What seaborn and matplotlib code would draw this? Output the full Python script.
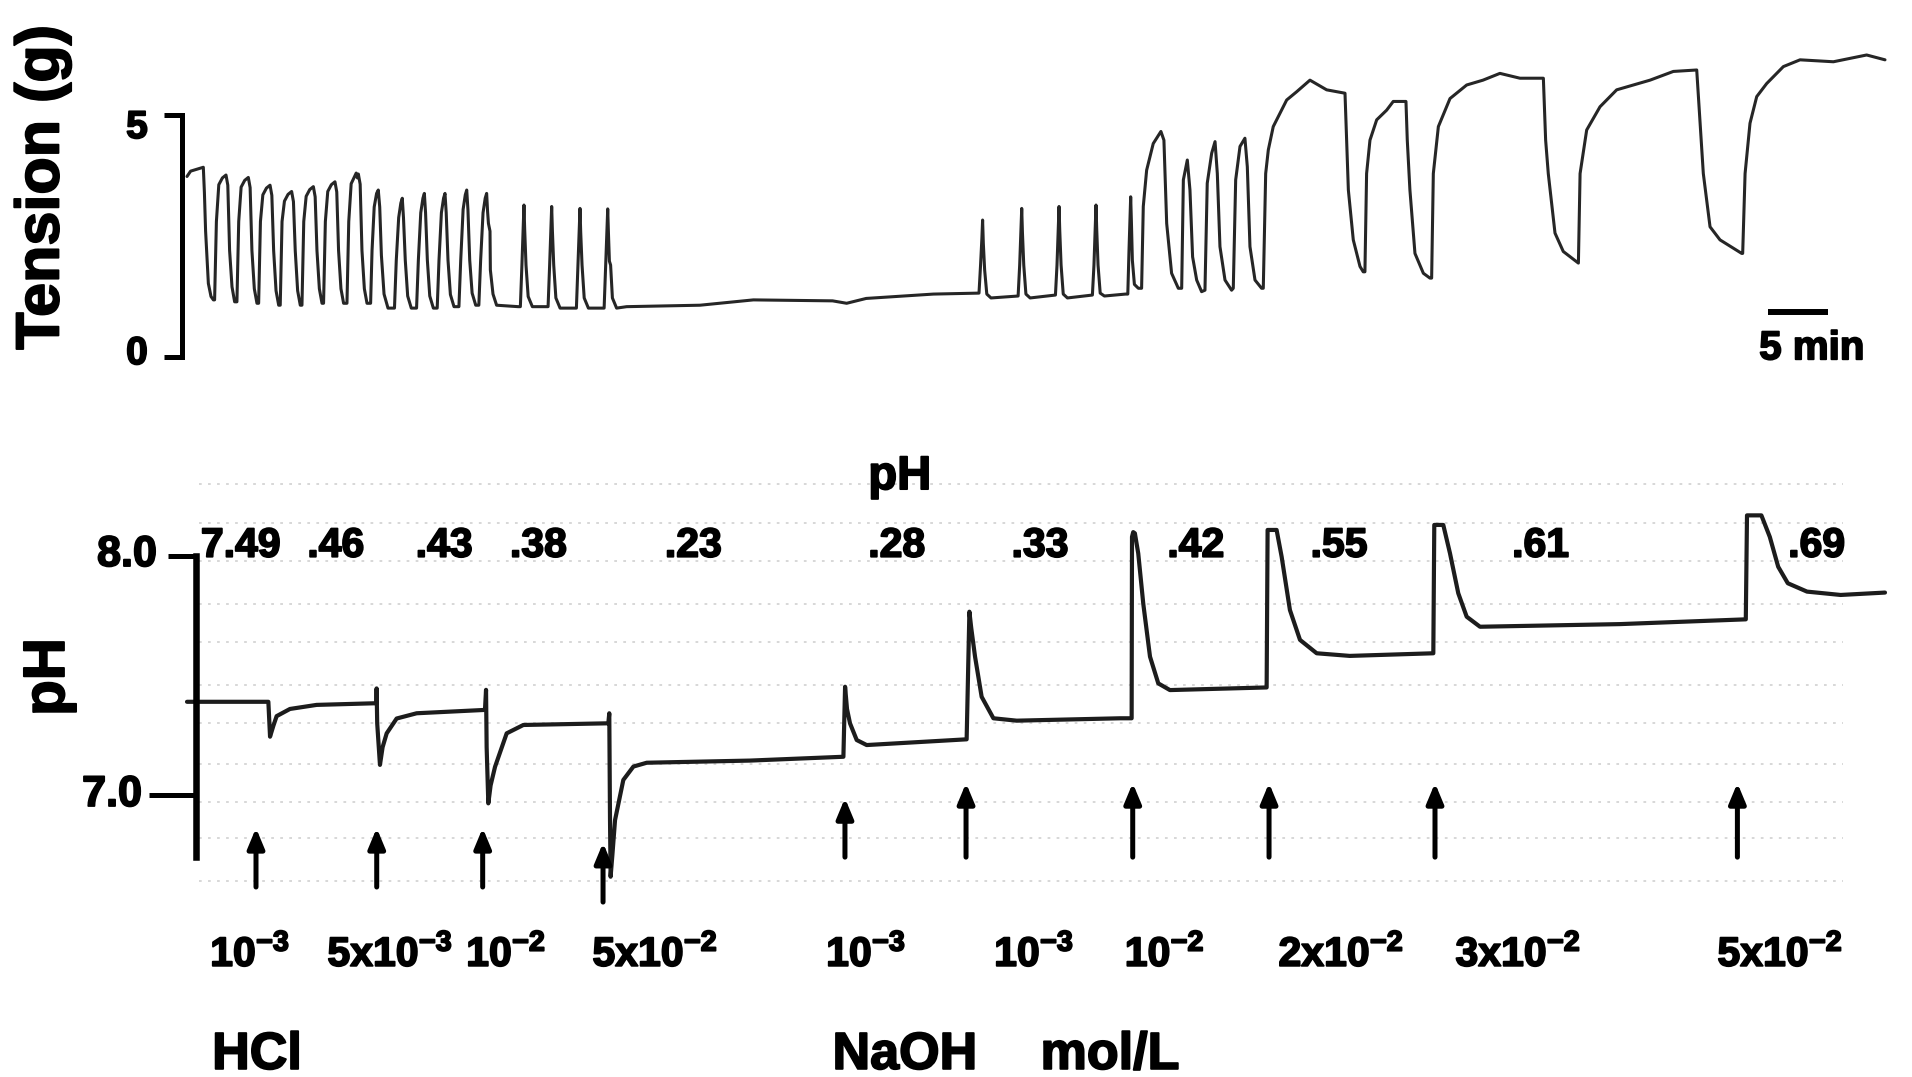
import matplotlib
matplotlib.use("Agg")
import matplotlib.pyplot as plt
import matplotlib.patheffects as pe
import numpy as np
import pandas as pd
import seaborn as sns

# time axis in minutes (about 12 px per min)
tension_t = [0.00, 0.30, 1.36, 1.45, 1.55, 1.78, 2.00, 2.20,
             2.30, 2.45, 2.65, 2.95, 3.25, 3.40, 3.55, 3.75, 3.97,
             4.16, 4.31, 4.51, 4.81, 5.11, 5.26, 5.41, 5.61, 5.83,
             5.97, 6.12, 6.32, 6.62, 6.92, 7.07, 7.22, 7.42, 7.64,
             7.77, 7.92, 8.12, 8.42, 8.72, 8.87, 9.02, 9.22, 9.44,
             9.58, 9.73, 9.93, 10.23, 10.53, 10.68, 10.83, 11.03, 11.25,
             11.38, 11.53, 11.73, 12.03, 12.33, 12.48, 12.63, 12.83, 13.05,
             13.33, 13.48, 13.68, 13.98, 14.10, 14.20, 14.28, 14.43, 14.58, 14.78, 15.00,
             15.30, 15.42, 15.60, 15.80, 15.94, 16.06, 16.20, 16.42, 16.75,
             17.29, 17.44, 17.64, 17.82, 17.94, 18.04, 18.19, 18.39, 18.69,
             19.13, 19.28, 19.48, 19.66, 19.78, 19.88, 20.03, 20.23, 20.53,
             20.85, 21.00, 21.20, 21.38, 21.50, 21.60, 21.75, 21.95, 22.25,
             22.66, 22.81, 23.01, 23.19, 23.31, 23.41, 23.56, 23.76, 24.06,
             24.32, 24.47, 24.67, 24.85, 24.97, 25.05, 25.12, 25.25, 25.28, 25.50, 25.80,
             27.60,
             27.78, 27.91, 28.02, 28.08, 28.14, 28.25, 28.43, 28.78,
             30.09, 30.22, 30.33, 30.39, 30.45, 30.56, 30.74, 31.09,
             32.45, 32.58, 32.69, 32.75, 32.81, 32.92, 33.10, 33.45,
             34.76, 34.89, 35.00, 35.06, 35.12, 35.20, 35.30, 35.45, 35.80,
             36.64, 42.75, 47.20, 53.80, 54.97, 56.60, 62.20, 65.80,
             66.00, 66.13, 66.24, 66.30, 66.36, 66.47, 66.65, 67.00, 69.20,
             69.26, 69.39, 69.50, 69.56, 69.62, 69.73, 69.91, 70.26, 72.30,
             72.37, 72.50, 72.61, 72.67, 72.73, 72.84, 73.02, 73.37, 75.40,
             75.45, 75.58, 75.69, 75.75, 75.81, 75.92, 76.10, 76.45, 78.20,
             78.40, 78.50, 78.60, 78.64, 78.70, 78.78, 78.95, 79.28,
             79.55, 79.69, 79.97, 80.52, 81.16, 81.41, 81.64, 82.05, 82.61,
             82.89, 83.03, 83.36, 83.58, 83.80, 84.14, 84.55,
             84.83, 85.02, 85.39, 85.67, 85.86, 86.08, 86.50, 87.05,
             87.19, 87.39, 87.75, 88.16, 88.36, 88.58, 89.00, 89.55,
             89.69, 89.89, 90.11, 90.52, 91.64, 92.47, 93.58, 94.97, 96.50,
             96.64, 96.78, 97.19, 97.75, 98.02,
             98.16, 98.30, 98.58, 99.14, 99.97, 100.52, 101.58, 101.69, 101.91,
             102.33, 103.03, 103.58,
             103.72, 103.86, 104.28, 105.25, 106.64, 108.00, 109.41, 111.08, 113.03,
             113.22, 113.44, 114.00, 114.69, 115.80,
             115.95, 116.09, 116.64, 117.75, 119.14, 121.92, 123.86, 125.81, 126.09,
             126.36, 126.92, 127.75, 129.56,
             129.64, 129.84, 130.25, 130.81, 131.64, 133.03, 134.42, 137.20, 139.97, 141.50]
tension_g = [3.73, 3.84, 3.92, 3.40, 2.60, 1.52, 1.25, 1.18,
             1.18, 2.80, 3.56, 3.70, 3.76, 3.55, 2.20, 1.45, 1.14,
             1.14, 2.80, 3.51, 3.65, 3.71, 3.50, 2.20, 1.41, 1.11,
             1.11, 2.80, 3.35, 3.49, 3.55, 3.34, 2.20, 1.37, 1.07,
             1.07, 2.80, 3.22, 3.36, 3.42, 3.21, 2.20, 1.37, 1.07,
             1.07, 2.80, 3.32, 3.46, 3.52, 3.31, 2.20, 1.41, 1.11,
             1.11, 2.80, 3.42, 3.56, 3.62, 3.41, 2.20, 1.41, 1.11,
             1.11, 2.80, 3.58, 3.74, 3.80, 3.70, 3.78, 3.57, 2.20, 1.41, 1.11,
             1.11, 2.20, 3.10, 3.38, 3.45, 3.10, 2.10, 1.30, 1.01,
             1.01, 2.00, 2.88, 3.18, 3.28, 2.88, 2.00, 1.26, 1.01,
             1.01, 2.00, 2.98, 3.28, 3.38, 2.98, 2.00, 1.26, 1.01,
             1.01, 2.00, 2.98, 3.28, 3.38, 2.98, 2.00, 1.29, 1.04,
             1.04, 2.00, 3.05, 3.35, 3.45, 3.05, 2.00, 1.32, 1.07,
             1.07, 2.00, 2.98, 3.28, 3.38, 3.00, 2.76, 2.60, 1.80, 1.30, 1.07,
             1.04,
             1.04, 1.90, 2.74, 3.14, 2.64, 1.90, 1.25, 1.04,
             1.04, 1.90, 2.71, 3.11, 2.61, 1.90, 1.22, 1.01,
             1.01, 1.90, 2.67, 3.07, 2.57, 1.90, 1.22, 1.01,
             1.01, 1.90, 2.66, 3.06, 2.56, 1.98, 1.90, 1.22, 1.01,
             1.04, 1.07, 1.18, 1.16, 1.11, 1.21, 1.30, 1.32,
             1.32, 1.90, 2.45, 2.83, 2.35, 1.80, 1.30, 1.22, 1.26,
             1.26, 1.90, 2.67, 3.07, 2.57, 1.90, 1.30, 1.22, 1.28,
             1.28, 1.90, 2.71, 3.11, 2.61, 1.90, 1.30, 1.22, 1.28,
             1.28, 1.90, 2.74, 3.14, 2.64, 1.90, 1.32, 1.26, 1.30,
             1.30, 2.20, 3.00, 3.31, 2.80, 2.00, 1.50, 1.42,
             1.42, 3.11, 3.86, 4.41, 4.66, 4.48, 2.76, 1.73, 1.42,
             1.42, 3.66, 4.07, 3.45, 2.07, 1.59, 1.35,
             1.38, 3.59, 4.21, 4.45, 3.79, 2.28, 1.59, 1.38,
             1.42, 3.66, 4.35, 4.52, 3.93, 2.28, 1.59, 1.42,
             1.42, 3.79, 4.28, 4.76, 5.31, 5.48, 5.72, 5.52, 5.45,
             4.48, 3.45, 2.42, 1.87, 1.76,
             1.76, 3.79, 4.48, 4.90, 5.10, 5.28, 5.28, 4.48, 3.45,
             2.14, 1.73, 1.63,
             1.63, 3.79, 4.76, 5.34, 5.62, 5.72, 5.86, 5.76, 5.76,
             4.48, 3.79, 2.56, 2.18, 1.97,
             1.94, 3.79, 4.69, 5.17, 5.52, 5.72, 5.90, 5.93, 4.83,
             3.79, 2.69, 2.42, 2.14,
             2.14, 3.79, 4.83, 5.38, 5.65, 6.00, 6.14, 6.10, 6.24, 6.14]

ph_t = [0.00, 6.78, 6.92, 7.20, 7.47, 8.58, 10.80, 15.78,
        15.80, 15.85, 16.08, 16.30, 16.64, 17.47, 19.14, 24.83,
        24.92, 24.97, 25.11, 25.30, 25.67, 26.64, 28.03, 35.11,
        35.19, 35.25, 35.30, 35.45, 35.67, 36.36, 37.20, 38.31, 46.92, 54.70,
        54.84, 55.00, 55.25, 55.81, 56.64, 64.97,
        65.20, 65.35, 65.67, 66.22, 67.20, 69.14, 77.75, 78.72,
        78.75, 78.85, 78.99, 79.27, 79.69, 80.25, 80.94, 81.91, 89.97,
        90.05, 90.80, 91.22, 91.91, 92.75, 94.14, 96.90, 103.86,
        103.94, 104.69, 105.25, 105.94, 106.64, 107.75, 119.40, 129.90,
        130.00, 131.20, 131.90, 132.60, 133.40, 135.00, 137.80, 141.50]
ph_v = [7.390, 7.390, 7.244, 7.290, 7.330, 7.360, 7.377, 7.384,
        7.446, 7.300, 7.126, 7.200, 7.258, 7.320, 7.342, 7.356,
        7.440, 7.200, 6.965, 7.040, 7.118, 7.258, 7.293, 7.300,
        7.342, 6.900, 6.658, 6.750, 6.895, 7.063, 7.119, 7.135, 7.144, 7.160,
        7.453, 7.360, 7.300, 7.230, 7.209, 7.233,
        7.767, 7.700, 7.579, 7.411, 7.321, 7.311, 7.321, 7.321,
        8.080, 8.100, 8.095, 8.011, 7.800, 7.579, 7.467, 7.439, 7.450,
        8.109, 8.109, 7.997, 7.774, 7.649, 7.593, 7.582, 7.593,
        8.130, 8.130, 8.011, 7.844, 7.746, 7.704, 7.715, 7.735,
        8.170, 8.170, 8.080, 7.955, 7.886, 7.851, 7.837, 7.847]

# additions (arrows): time, arrow tip and tail in pH units
arrow_t = [5.75, 15.81, 24.64, 34.67, 54.83, 64.92, 78.81, 90.17, 104.0, 129.2]
arrow_tip = [6.862, 6.862, 6.862, 6.800, 6.987, 7.050, 7.050, 7.050, 7.050, 7.050]
arrow_tail = [6.615, 6.615, 6.615, 6.552, 6.740, 6.740, 6.740, 6.740, 6.740, 6.740]

ph_labels = ["7.49", ".46", ".43", ".38", ".23", ".28", ".33", ".42", ".55", ".61", ".69"]
ph_label_t = [4.48, 12.4, 21.43, 29.28, 42.19, 59.14, 71.08, 84.07, 96.0, 112.8, 135.8]

conc_labels = ["10$^{-3}$", "5x10$^{-3}$", "10$^{-2}$", "5x10$^{-2}$",
               "10$^{-3}$", "10$^{-3}$", "10$^{-2}$", "2x10$^{-2}$", "3x10$^{-2}$", "5x10$^{-2}$"]
conc_t = [5.25, 16.92, 26.58, 39.0, 56.58, 70.58, 81.46, 96.17, 110.92, 132.75]

agent_labels = ["HCl", "NaOH", "mol/L"]
agent_t = [5.83, 59.83, 76.92]

scale_bar_t = [131.78, 136.78]
scale_bar_g = [0.92, 0.92]

# faint chart-paper lines behind the pH trace
paper_ph = [8.30, 8.14, 7.98, 7.80, 7.64, 7.46, 7.30, 7.13, 6.97, 6.82, 6.64]

sns.set_theme(style="white")
plt.rcParams['font.family'] = ['Liberation Sans', 'DejaVu Sans']
plt.rcParams['font.weight'] = 'bold'
plt.rcParams['mathtext.fontset'] = 'custom'
plt.rcParams['mathtext.rm'] = 'Liberation Sans:bold'
plt.rcParams['mathtext.it'] = 'Liberation Sans:bold'
plt.rcParams['mathtext.bf'] = 'Liberation Sans:bold'

heavy = [pe.withStroke(linewidth=1.3, foreground="black")]

W, H = 1912, 1077
fig = plt.figure(figsize=(W / 100, H / 100), dpi=100)
split = 420
ax1 = fig.add_axes([0, 1 - split / H, 1, split / H])
ax2 = fig.add_axes([0, 0, 1, 1 - split / H])

xlim = (-187 / 12, (W - 187) / 12)
ax1.set_xlim(*xlim)
ax2.set_xlim(*xlim)
ax1.set_ylim((357 - split) / 48.4, 357 / 48.4)
ax2.set_ylim(8 - (H - 556) / 239, 8 - (split - 556) / 239)

for lvl in paper_ph:
    ax2.plot([1.0, 138.0], [lvl, lvl], color="#d4d4d4", lw=1.3,
             linestyle=(0, (1.5, 3.5)), zorder=0)

trace = pd.DataFrame({"t": tension_t, "g": tension_g})
phdf = pd.DataFrame({"t": ph_t, "pH": ph_v})
sns.lineplot(data=trace, x="t", y="g", sort=False, estimator=None,
             color="#262626", lw=2.2, ax=ax1)
sns.lineplot(data=phdf, x="t", y="pH", sort=False, estimator=None,
             color="#1c1c1c", lw=3.0, ax=ax2)

for ax in (ax1, ax2):
    ax.set_facecolor("none")
    ax.set_xlabel("")
    ax.set_ylabel("")
    ax.set_xticks([])
    for s in ("top", "right", "bottom"):
        ax.spines[s].set_visible(False)
    ax.spines["left"].set_color("black")


def label(ax, x, y, s, size, **kw):
    ax.text(x, y, s, fontsize=size, fontweight="bold", color="black",
            path_effects=heavy, **kw)


# tension axis
ax1.spines["left"].set_position(("data", -0.42))
ax1.spines["left"].set_bounds(0, 5)
ax1.spines["left"].set_linewidth(3.6)
ax1.set_yticks([0, 5])
ax1.tick_params(axis="y", direction="out", length=13, width=3.6,
                color="black", labelleft=False, left=True)
label(ax1, -4.17, 4.73, "5", 28, ha="center", va="center")
label(ax1, -4.17, 0.06, "0", 28, ha="center", va="center")
label(ax1, -12.0, 3.50, "Tension (g)", 44, rotation=90, ha="center", va="center")
ax1.plot(scale_bar_t, scale_bar_g, color="black", lw=4.3, solid_capstyle="butt")
label(ax1, 135.4, 0.18, "5 min", 29, ha="center", va="center")

# pH axis
ax2.spines["left"].set_position(("data", 0.75))
ax2.spines["left"].set_bounds(6.74, 8.0)
ax2.spines["left"].set_linewidth(4.7)
ax2.set_yticks([7.0])
ax2.set_yticks([8.0], minor=True)
ax2.tick_params(axis="y", which="major", direction="out", length=34, width=3.6,
                color="black", labelleft=False, left=True)
ax2.tick_params(axis="y", which="minor", direction="out", length=20, width=3.6,
                color="black", labelleft=False, left=True)
label(ax2, -5.0, 8.004, "8.0", 31, ha="center", va="center")
label(ax2, -6.25, 7.0, "7.0", 31, ha="center", va="center")
label(ax2, -11.5, 7.494, "pH", 42, rotation=90, ha="center", va="center")
label(ax2, 59.4, 8.330, "pH", 34, ha="center", va="center")

for lab, t in zip(ph_labels, ph_label_t):
    label(ax2, t, 8.043, lab, 29.5, ha="center", va="center")

for t, tip, tail in zip(arrow_t, arrow_tip, arrow_tail):
    ax2.annotate("", xy=(t, tip), xytext=(t, tail),
                 arrowprops=dict(arrowstyle="-|>,head_length=0.6,head_width=0.25",
                                 mutation_scale=20, lw=3.6, color="black",
                                 shrinkA=0, shrinkB=0))

for lab, t in zip(conc_labels, conc_t):
    label(ax2, t, 6.285, lab, 29.5, ha="center", va="baseline")

for lab, t in zip(agent_labels, agent_t):
    label(ax2, t, 5.854, lab, 37.5, ha="center", va="baseline")

fig.savefig("out.png", dpi=100, facecolor="white")
